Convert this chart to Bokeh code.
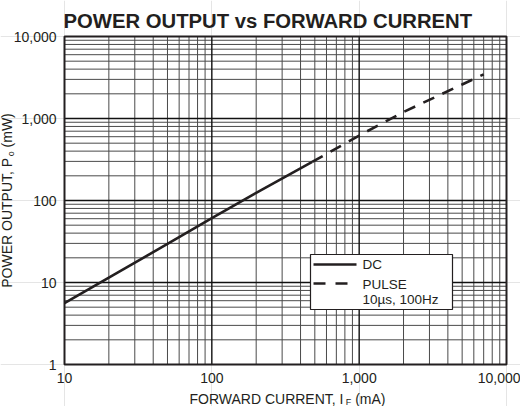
import math
from bokeh.plotting import figure
from bokeh.models import FixedTicker, NumeralTickFormatter, Label, Range1d, LogAxis
from bokeh.embed import file_html
from bokeh.resources import INLINE

# ---- data ----
dc_current = [10, 20, 50, 100, 200, 480]
dc_power = [5.6, 11.5, 29.5, 61, 124, 295]
pulse_current = [480, 1000, 2000, 5000, 7000]
pulse_power = [295, 620, 1200, 2600, 3450]

x_span = [10, 10000]
y_span = [1, 10000]
x_major = [10, 100, 1000, 10000]
x_minor = [m * d for d in (10, 100, 1000) for m in range(2, 10)]
y_major = [1, 10, 100, 1000, 10000]
y_minor = [m * d for d in (1, 10, 100, 1000) for m in range(2, 10)]

title_text = "POWER OUTPUT vs FORWARD CURRENT"
x_title = ["FORWARD CURRENT, I", "F", " (mA)"]
y_title = ["POWER OUTPUT, P", "o", " (mW)"]
legend_labels = ["DC", "PULSE", "10\u00b5s, 100Hz"]

FONT = "Liberation Sans"
INK = "#231f20"

# page layout (pixels): plot area edges inside a 520x406 canvas
CW, CH = 520, 406
L, R, T, B = 64, 506, 36, 364
lx0, lx1 = math.log10(x_span[0]), math.log10(x_span[1])
ly0, ly1 = math.log10(y_span[0]), math.log10(y_span[1])
kx = (lx1 - lx0) / (R - L)
ky = (ly1 - ly0) / (B - T)
x_lo, x_hi = 10 ** (lx0 - L * kx), 10 ** (lx1 + (CW - R) * kx)
y_lo, y_hi = 10 ** (ly0 - (CH - B) * ky), 10 ** (ly1 + T * ky)

def xd(px):
    return 10 ** (lx0 + (px - L) * kx)

def yd(py):
    return 10 ** (ly0 + (B - py) * ky)

p = figure(x_axis_type="log", y_axis_type="log",
           x_range=Range1d(x_lo, x_hi), y_range=Range1d(y_lo, y_hi),
           width=CW, height=CH, min_border=0,
           x_axis_location=None, y_axis_location=None,
           output_backend="svg", toolbar_location=None)
p.background_fill_color = "white"
p.border_fill_color = "white"
p.outline_line_color = None

def style_axis(ax, maj):
    ax.ticker = FixedTicker(ticks=maj)
    ax.formatter = NumeralTickFormatter(format="0,0")
    ax.axis_line_color = None
    ax.major_tick_line_color = None
    ax.minor_tick_line_color = None
    ax.major_tick_in = 0
    ax.major_tick_out = 0
    ax.minor_tick_in = 0
    ax.minor_tick_out = 0
    ax.major_label_text_font = FONT
    ax.major_label_text_font_size = "14px"
    ax.major_label_text_color = INK
    ax.major_label_standoff = 8

xaxis = LogAxis(fixed_location=y_span[0])
style_axis(xaxis, x_major)
p.add_layout(xaxis, "below")
yaxis = LogAxis(fixed_location=x_span[0])
style_axis(yaxis, y_major)
p.add_layout(yaxis, "left")

# grid lines from the tick arrays
p.multi_line([[t, t] for t in x_minor], [y_span for _ in x_minor], line_color="#4a4a4a", line_width=1)
p.multi_line([x_span for _ in y_minor], [[t, t] for t in y_minor], line_color="#4a4a4a", line_width=1)
p.multi_line([[t, t] for t in x_major[1:-1]], [y_span for _ in x_major[1:-1]], line_color="#111111", line_width=1.4)
p.multi_line([x_span for _ in y_major[1:-1]], [[t, t] for t in y_major[1:-1]], line_color="#111111", line_width=1.4)
p.quad(left=[x_span[0]], right=[x_span[1]], bottom=[y_span[0]], top=[y_span[1]],
       fill_color=None, line_color=INK, line_width=2)

# curves
p.line(dc_current, dc_power, line_color=INK, line_width=2.6)
p.line(pulse_current, pulse_power, line_color=INK, line_width=2.6, line_dash="12 9")

# legend box
p.quad(left=[xd(310)], right=[xd(452)], bottom=[yd(309)], top=[yd(254)],
       fill_color="white", line_color=INK, line_width=1.2)
p.line([xd(313), xd(356)], [yd(264), yd(264)], line_color=INK, line_width=2.6)
p.line([xd(313), xd(350)], [yd(283), yd(283)], line_color=INK, line_width=2.6, line_dash="12 10")

def label(text, px, py, size, angle=0.0, bold=False, align="left", baseline="middle"):
    p.add_layout(Label(x=px, y=CH - py, x_units="screen", y_units="screen", text=text,
                       angle=angle, text_font=FONT, text_font_size=f"{size}px",
                       text_font_style="bold" if bold else "normal", text_color=INK,
                       text_align=align, text_baseline=baseline))

for txt, py in zip(legend_labels, (264, 284, 299)):
    label(txt, 362, py, 13.5)

# Arial / Liberation Sans advance widths (per 1000 em)
W = {'F': 611, 'O': 778, 'R': 722, 'W': 944, 'A': 667, 'D': 722, ' ': 278, 'C': 722,
     'U': 722, 'E': 667, 'N': 722, 'T': 611, ',': 278, 'I': 278, '(': 333, 'm': 833,
     ')': 333, 'P': 667, 'o': 556}

def tw(s, size):
    return sum(W.get(c, 600) for c in s) * size / 1000.0

# title
label(title_text, 63, 20, 20.3, bold=True)

sizes = [14, 9, 14]
shift = [0, 3.5, 0]

# x axis title with subscript (leading spaces are advanced manually: SVG trims them)
total = sum(tw(s, z) for s, z in zip(x_title, sizes))
x0 = 287 - total / 2
for s, z, dy in zip(x_title, sizes, shift):
    lead = len(s) - len(s.lstrip(" "))
    label(s.lstrip(" "), x0 + tw(" " * lead, z), 398 + dy, z)
    x0 += tw(s, z)

# y axis title with subscript (rotated, reading upward)
total = sum(tw(s, z) for s, z in zip(y_title, sizes))
y0 = 200 + total / 2
for s, z, dx in zip(y_title, sizes, shift):
    lead = len(s) - len(s.lstrip(" "))
    label(s.lstrip(" "), 6.5 + dx, y0 - tw(" " * lead, z), z, angle=math.pi / 2)
    y0 -= tw(s, z)

open("out.html", "w").write(file_html(p, INLINE))
